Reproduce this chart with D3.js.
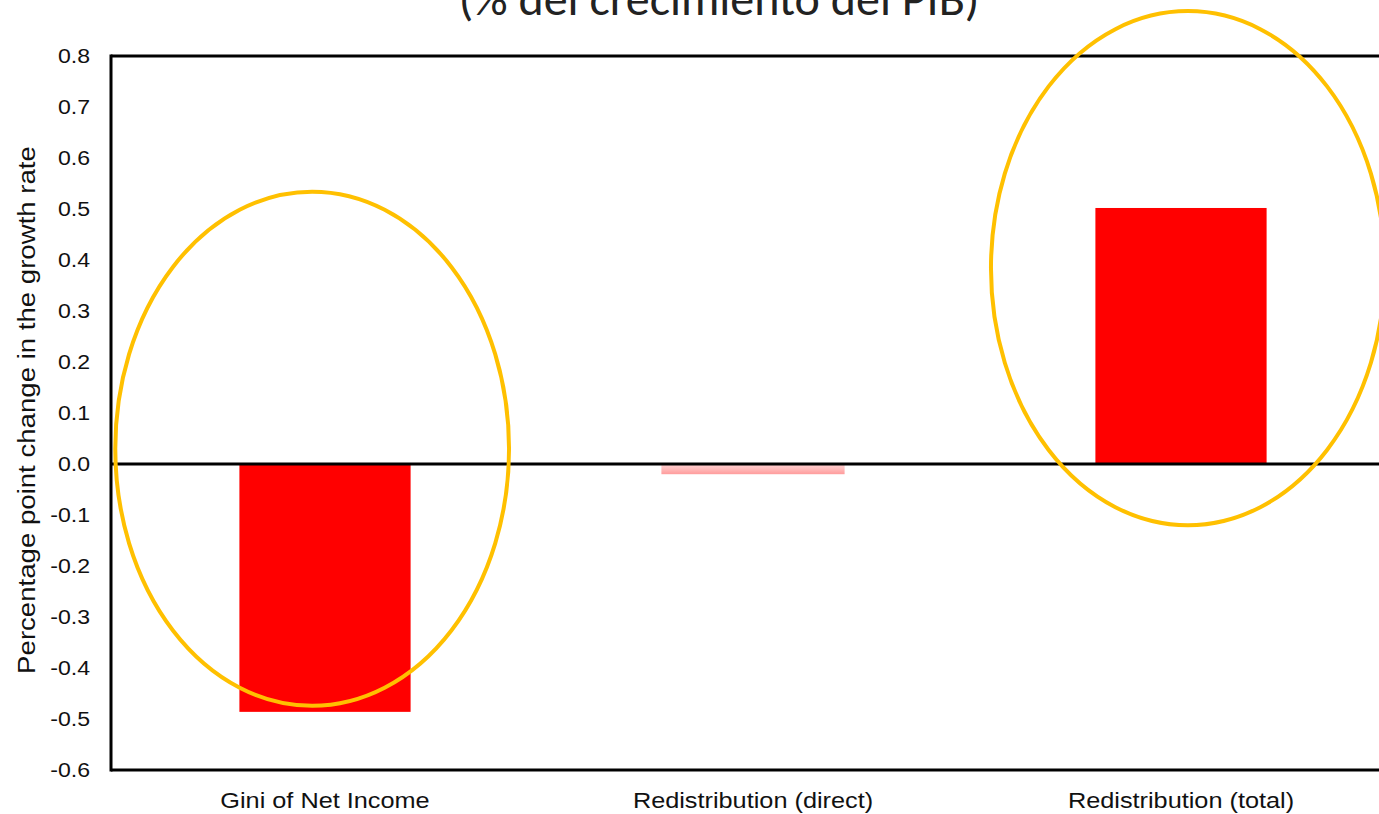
<!DOCTYPE html>
<html><head><meta charset="utf-8">
<script src="https://cdn.jsdelivr.net/npm/d3@7"></script>
<style>html,body{margin:0;padding:0;background:#fff;overflow:hidden}</style>
</head><body>
<svg id="c" width="1379" height="814"></svg>
<script>
const title = "(% del crecimiento del PIB)";
const yLabel = "Percentage point change in the growth rate";
const categories = ["Gini of Net Income", "Redistribution (direct)", "Redistribution (total)"];
const values = [-0.486, -0.02, 0.502];
const faded = [false, true, false];
const yTicks = [-0.6,-0.5,-0.4,-0.3,-0.2,-0.1,0,0.1,0.2,0.3,0.4,0.5,0.6,0.7,0.8];
// highlight ellipses: category, centre value, half-height in value units
const highlightCats = ["Gini of Net Income", "Redistribution (total)"];
const highlightCenters = [0.03, 0.384];
const highlightOffsets = [-0.03, 0.016];

const svg = d3.select("#c");
const m = {left:111, top:56, bottom:770, right:1395};
const x = d3.scaleBand().domain(categories).range([m.left, m.right]).paddingInner(0.6).paddingOuter(0.3);
const y = d3.scaleLinear().domain([-0.6, 0.8]).range([m.bottom, m.top]);

const defs = svg.append("defs");
const g = defs.append("linearGradient").attr("id","pink").attr("x1",0).attr("y1",0).attr("x2",0).attr("y2",1);
g.append("stop").attr("offset","0%").attr("stop-color","#ffd6d6");
g.append("stop").attr("offset","100%").attr("stop-color","#ff9c9c");

svg.append("text").attr("x", 719).attr("y", 15).attr("text-anchor","middle")
  .attr("font-family","Carlito, 'Open Sans', 'Noto Sans', sans-serif").attr("font-size",48).attr("fill","#222")
  .text(title);

// bars
svg.append("g").selectAll("rect").data(values).join("rect")
  .attr("x",(d,i)=>x(categories[i]) - (faded[i] ? 6 : 0))
  .attr("width",(d,i)=> x.bandwidth() + (faded[i] ? 12 : 0))
  .attr("y", d=>y(Math.max(0,d)))
  .attr("height", d=>Math.abs(y(d)-y(0)))
  .attr("fill",(d,i)=>faded[i] ? "url(#pink)" : "#ff0000");

// axes
const yAxis = d3.axisLeft(y).tickValues(yTicks).tickSize(0).tickPadding(20).tickFormat(d => d3.format(".1f")(d).replace("\u2212","-"));
const ga = svg.append("g").attr("transform",`translate(${m.left},0)`).call(yAxis);
ga.select(".domain").remove();
ga.selectAll("text").attr("font-family","'Liberation Sans', Arial, sans-serif").attr("font-size",21).attr("fill","#111")
  .attr("x", -21/1.1).attr("transform","scale(1.1,1)");

const xAxis = d3.axisBottom(x).tickSize(0).tickPadding(22);
const gx = svg.append("g").attr("transform",`translate(0,${m.bottom})`).call(xAxis);
gx.select(".domain").remove();
gx.selectAll("text").attr("font-family","'Liberation Sans', Arial, sans-serif").attr("font-size",22).attr("fill","#111")
  .attr("dy", null).attr("y", 38).attr("transform","scale(1.15,1)");

// frame lines
const lw = 3;
svg.append("line").attr("x1",m.left).attr("x2",1379).attr("y1",y(0.8)).attr("y2",y(0.8)).attr("stroke","#000").attr("stroke-width",lw);
svg.append("line").attr("x1",m.left).attr("x2",1379).attr("y1",y(-0.6)).attr("y2",y(-0.6)).attr("stroke","#000").attr("stroke-width",lw);
svg.append("line").attr("x1",m.left).attr("x2",m.left).attr("y1",y(0.8)-1.5).attr("y2",y(-0.6)+1.5).attr("stroke","#000").attr("stroke-width",lw);
svg.append("line").attr("x1",m.left).attr("x2",1379).attr("y1",y(0)).attr("y2",y(0)).attr("stroke","#000").attr("stroke-width",lw);

svg.append("text").attr("transform",`translate(35,${(y(0.8)+y(-0.6))/2 - 3}) rotate(-90) scale(1.15,1)`)
  .attr("text-anchor","middle").attr("font-family","'Liberation Sans', Arial, sans-serif").attr("font-size",24).attr("fill","#111")
  .text(yLabel);

// highlight ellipses
const step = x.step();
svg.append("g").selectAll("ellipse").data(highlightCats).join("ellipse")
  .attr("cx",(c,i)=>x(c)+x.bandwidth()/2 + highlightOffsets[i]*step)
  .attr("cy",(c,i)=>y(highlightCenters[i]))
  .attr("rx", step*0.46)
  .attr("ry", y(0)-y(0.504))
  .attr("fill","none").attr("stroke","#ffc000").attr("stroke-width",4);
</script>
</body></html>
